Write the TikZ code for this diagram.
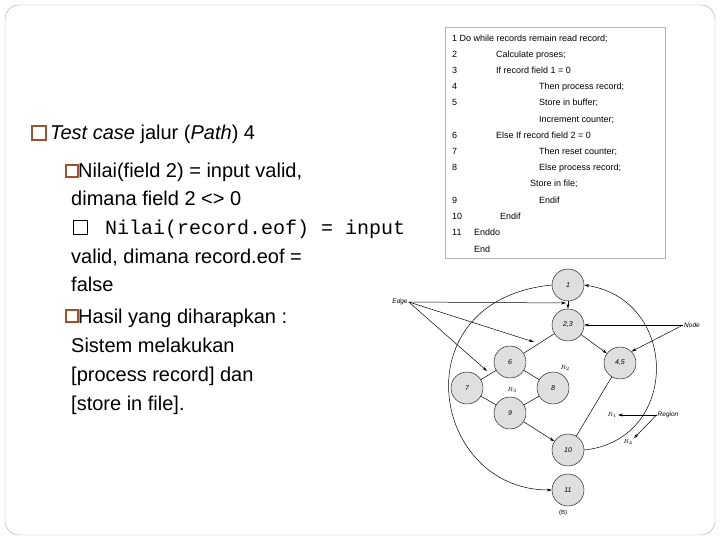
\documentclass[tikz,border=0pt]{standalone}
\usepackage{fontspec}
\setmainfont{Liberation Sans}
\newfontfamily\monofont{Liberation Mono}
\usetikzlibrary{arrows.meta}
\definecolor{bulletbrown}{RGB}{160,82,45}
\tikzset{
    TX/.style ={anchor=base west,inner sep=0pt,font=\fontsize{20}{20}\selectfont},
    BX/.style ={rectangle,draw=bulletbrown,line width=1.1pt,minimum width=12pt,minimum height=12pt,inner sep=0pt},
    CL/.style ={anchor=base west,inner sep=0pt,font=\fontsize{9}{9}\selectfont},
    ND/.style ={circle,minimum width=32pt,draw,fill=gray!25,inner sep=0pt,font=\fontsize{7}{7}\itshape},
    LB/.style ={inner sep=1pt,font=\fontsize{6.5}{7}\itshape},
    AR/.style ={-{Stealth[length=5pt,width=3pt]}},
    ED/.style ={line width=0.5pt}}
\begin{document}
\begin{tikzpicture}[x=1pt,y=-1pt]
    \useasboundingbox (0,0) rectangle (720,540);
    \draw[gray!70,rounded corners=14pt] (5,5) rectangle (715,535);
    % left text
    \node[BX,minimum size=14pt] (b1) at (39,133) {};
    \node[TX] (t1) at (50,140) {\textit{Test case} jalur (\textit{Path}) 4};
    \node[BX] (b2) at (72,171) {};
    \node[TX] (t2) at (78,178) {Nilai(field 2) = input valid,};
    \node[TX] (t3) at (71,206) {dimana field 2 <> 0};
    \node[BX,draw=black,line width=0.9pt,minimum size=14pt] (b3) at (80,227) {};
    \node[TX,font=\monofont\fontsize{20}{20}\selectfont] (t4) at (105,234) {Nilai(record.eof) = input};
    \node[TX] (t5) at (71,263) {valid, dimana record.eof =};
    \node[TX] (t6) at (71,291) {false};
    \node[BX] (b4) at (72,316) {};
    \node[TX] (t7) at (78,323) {Hasil yang diharapkan :};
    \node[TX] (t8) at (71,352) {Sistem melakukan};
    \node[TX] (t9) at (71,381) {[process record] dan};
    \node[TX] (t10) at (71,410) {[store in file].};
    % code listing
    \draw[gray!60] (445,27) rectangle (665,258);
    \node[CL] at (452,42) {1 Do while records remain read record;};
    \node[CL] at (452,58) {2}; \node[CL] at (496,58) {Calculate proses;};
    \node[CL] at (452,74) {3}; \node[CL] at (496,74) {If record field 1 = 0};
    \node[CL] at (452,90) {4}; \node[CL] at (539,90) {Then process record;};
    \node[CL] at (452,106) {5}; \node[CL] at (539,106) {Store in buffer;};
    \node[CL] at (539,123) {Increment counter;};
    \node[CL] at (452,139) {6}; \node[CL] at (496,139) {Else If record field 2 = 0};
    \node[CL] at (452,155) {7}; \node[CL] at (539,155) {Then reset counter;};
    \node[CL] at (452,171) {8}; \node[CL] at (539,171) {Else process record;};
    \node[CL] at (530,187) {Store in file;};
    \node[CL] at (452,204) {9}; \node[CL] at (539,204) {Endif};
    \node[CL] at (452,220) {10}; \node[CL] at (500,220) {Endif};
    \node[CL] at (452,236) {11}; \node[CL] at (474,236) {Enddo};
    \node[CL] at (474,252) {End};
    % flow graph
    \node[ND] (1) at (568,285) {1};
    \node[ND] (2) at (568,325) {2,3};
    \node[ND] (3) at (510,362) {6};
    \node[ND] (4) at (620,363) {4,5};
    \node[ND] (5) at (467,388) {7};
    \node[ND] (6) at (553,388) {8};
    \node[ND] (7) at (510,413) {9};
    \node[ND] (8) at (568,450) {10};
    \node[ND] (9) at (568,490) {11};
    \draw[ED,AR] (1) -- (2);
    \draw[ED] (2) -- (3);
    \draw[ED,AR] (2) -- (4);
    \draw[ED] (3) -- (5);
    \draw[ED] (3) -- (6);
    \draw[ED] (5) -- (7);
    \draw[ED] (6) -- (7);
    \draw[ED,AR] (7) -- (8);
    \draw[ED] (4) -- (8);
    \draw[ED,AR] (8.east) .. controls (680,440) and (680,300) .. (1.east);
    \draw[ED,AR] (1.west) .. controls (400,300) and (430,490) .. (9.west);
    % labels
    \node[LB] (edge) at (400,302) {Edge};
    \node[LB] (node) at (692,325) {Node};
    \node[LB] (region) at (668,415) {Region};
    \node[LB] (r1) at (612,415) {$R_1$};
    \node[LB] (r2) at (565,368) {$R_2$};
    \node[LB] (r3) at (512,390) {$R_3$};
    \node[LB] (r4) at (628,442) {$R_4$};
    \node[LB,font=\fontsize{6}{6}\selectfont] (cap) at (563,513) {(B)};
    \coordinate (e1) at (566,303);
    \coordinate (e2) at (534,342);
    \coordinate (e3) at (487,371);
    \draw[ED,AR] (edge.east) -- (e1);
    \draw[ED,AR] (edge.east) -- (e2);
    \draw[ED,AR] (edge.east) -- (e3);
    \draw[ED,AR] (node.west) -- (2.east);
    \draw[ED,AR] (node.west) -- (4.north east);
    \draw[ED,AR] (region.west) -- (r1.east);
    \draw[ED,AR] (region.west) -- (r4.north east);
\end{tikzpicture}
\end{document}
